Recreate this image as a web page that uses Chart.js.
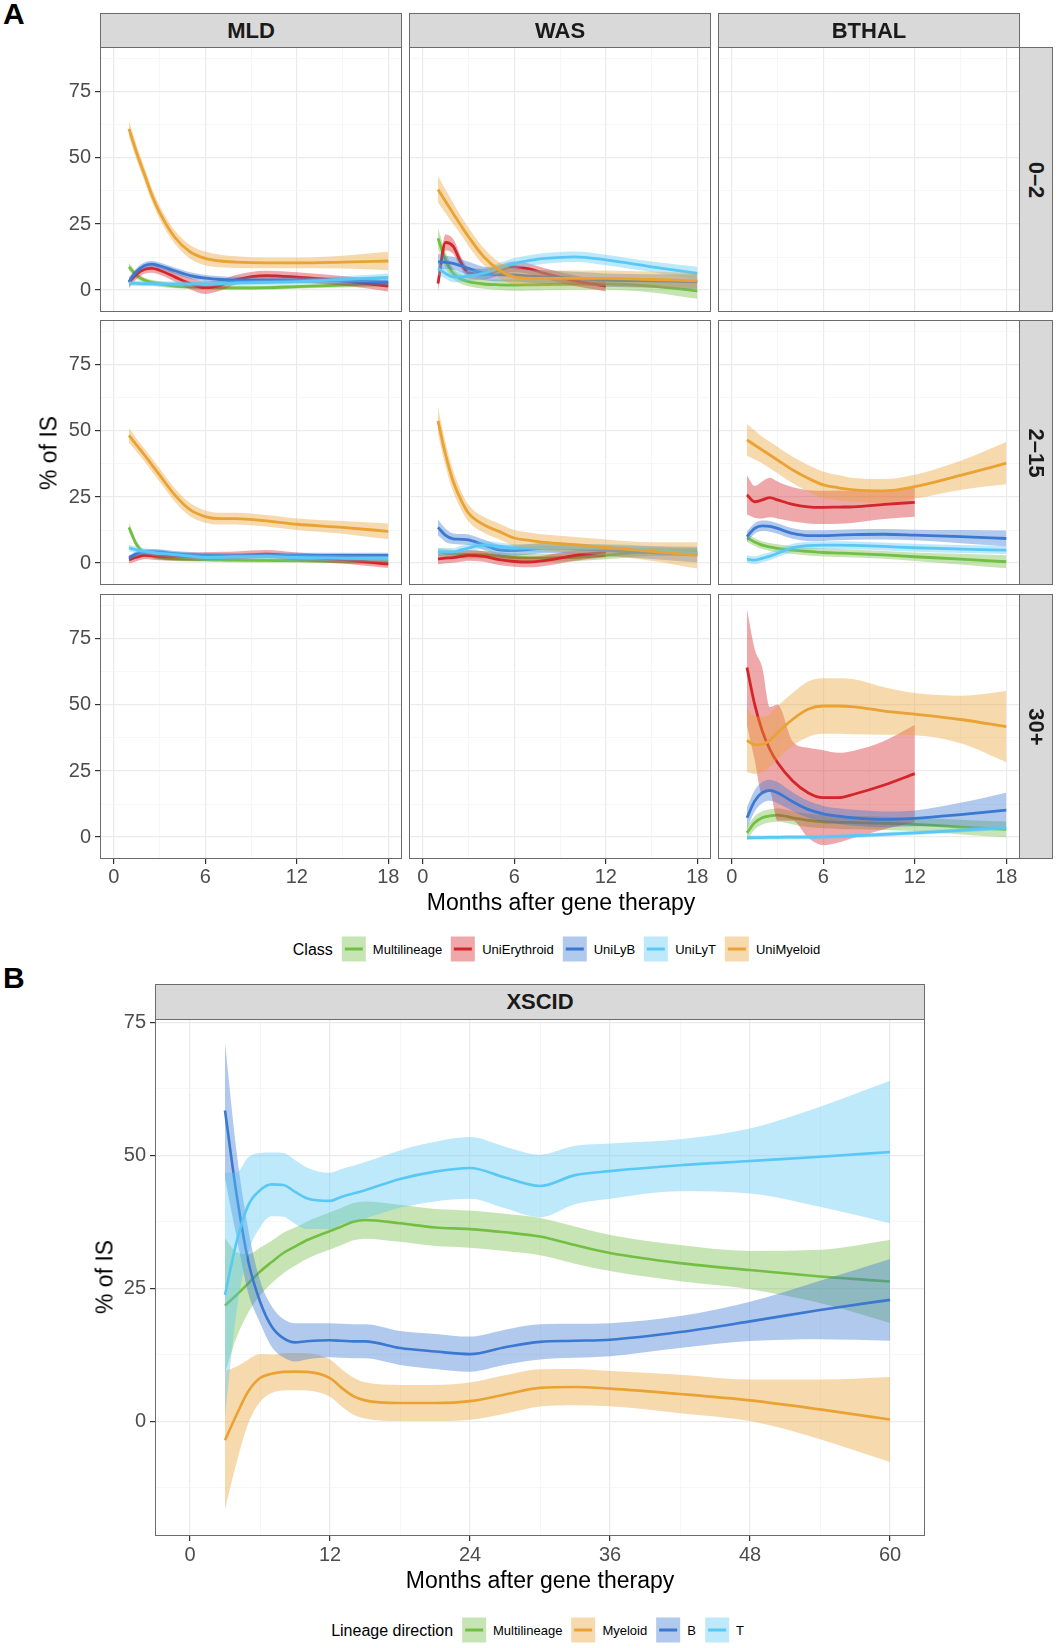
<!DOCTYPE html>
<html>
<head>
<meta charset="utf-8">
<script src="https://cdn.jsdelivr.net/npm/chart.js@4.4.0/dist/chart.umd.min.js"></script>
<style>
    body {
        margin: 0;
        background: #fff;
        width: 1057px;
        height: 1648px;
        position: relative;
        overflow: hidden;
        font-family: "Liberation Sans", Arial, Helvetica, sans-serif;
    }
    .strip {
        position: absolute;
        background: #d9d9d9;
        border: 1px solid #6b6b6b;
        box-sizing: border-box;
        font-weight: bold;
        font-size: 22px;
        color: #1a1a1a;
        display: flex;
        align-items: center;
        justify-content: center;
    }
    .strip.side span { transform: rotate(90deg); white-space: nowrap; }
    .txt { position: absolute; white-space: nowrap; color: #000; }
    .letter { font-weight: bold; font-size: 30px; }
    .axis-title { font-size: 23px; transform: translate(-50%, -50%); }
    .axis-title.rot { transform: translate(-50%, -50%) rotate(-90deg); }
    .legend {
        position: absolute;
        display: flex;
        align-items: center;
        transform: translate(-50%, -50%);
        white-space: nowrap;
    }
    .legend .title { font-size: 16px; margin-right: 9px; }
    .legend .key {
        width: 24px;
        height: 25px;
        margin-right: 7px;
        display: flex;
        align-items: center;
        justify-content: center;
    }
    .legend .key i { display: block; width: 18px; height: 3px; }
    .legend .lab { font-size: 13px; margin-right: 9px; }
</style>
</head>
<body>
<script>
    // ---- A: clone share by class, facets disease x age group ----
    const classNames = ['Multilineage', 'UniErythroid', 'UniLyB', 'UniLyT', 'UniMyeloid']
    const classColors = ['#72bf44', '#d4252a', '#3b78d1', '#5ac8f5', '#e9a233']
    const diseases = ['MLD', 'WAS', 'BTHAL']
    const ageGroups = ['0–2', '2–15', '30+']
    const monthsA = [1, 1.5, 2, 2.5, 3, 4, 5, 6, 7, 8, 10, 12, 15, 18]
    const monthTicksA = [0, 3, 6, 9, 12, 15, 18]
    const pctTicksA = [0, 12.5, 25, 37.5, 50, 62.5, 75, 87.5]

    // MLD 0-2
    const mld02Multi = [8.8, 5.5, 3.8, 2.9, 2.3, 1.5, 1.2, 1.0, 0.9, 0.8, 0.9, 1.3, 1.9, 2.5]
    const mld02MultiSe = [1.5, 1.2, 1.0, 1.0, 1.0, 0.8, 0.8, 0.8, 0.8, 0.8, 0.8, 0.8, 0.9, 1.2]
    const mld02Ery = [2.8, 6.0, 7.8, 8.2, 7.5, 5.0, 2.5, 0.9, 1.8, 3.9, 5.5, 4.9, 3.5, 1.5]
    const mld02ErySe = [2.0, 1.8, 1.6, 1.6, 1.6, 1.8, 2.2, 2.4, 2.0, 1.8, 1.8, 1.8, 1.8, 2.0]
    const mld02LyB = [3.2, 7.0, 9.2, 9.8, 9.2, 7.3, 5.5, 4.5, 4.0, 3.8, 3.8, 3.8, 3.5, 3.0]
    const mld02LyBSe = [1.5, 1.3, 1.2, 1.2, 1.2, 1.2, 1.2, 1.2, 1.2, 1.2, 1.2, 1.2, 1.3, 1.5]
    const mld02LyT = [2.5, 2.5, 2.4, 2.4, 2.4, 2.3, 2.3, 2.3, 2.4, 2.6, 2.9, 3.2, 4.0, 4.8]
    const mld02LyTSe = [1.0, 1.0, 1.0, 1.0, 1.0, 1.0, 1.0, 1.0, 1.0, 1.0, 1.0, 1.0, 1.2, 1.5]
    const mld02Mye = [61, 52, 44, 36, 29.5, 20, 14.5, 12, 11, 10.6, 10.3, 10.3, 10.6, 11]
    const mld02MyeSe = [3.0, 2.8, 2.6, 2.5, 2.5, 2.5, 2.6, 2.6, 2.4, 2.2, 2.0, 2.0, 2.4, 3.5]

    // WAS 0-2
    const was02Multi = [19.6, 11.4, 6.3, 4.2, 3.2, 2.3, 2.0, 1.9, 2.0, 2.1, 2.3, 2.3, 1.5, -0.3]
    const was02MultiSe = [4.0, 3.0, 2.0, 1.8, 1.8, 1.8, 2.0, 2.2, 2.2, 2.2, 2.2, 2.2, 2.4, 3.0]
    const was02Ery = [2.5, 18.0, 16.5, 10.5, 6.5, 6.0, 7.5, 8.8, 8.0, 6.3, 3.5, 1.5]
    const was02ErySe = [3.0, 3.0, 2.8, 2.2, 2.0, 2.0, 2.0, 2.0, 2.0, 2.0, 2.0, 2.0]
    const was02LyB = [10.7, 10.5, 10.1, 9.2, 8.2, 6.3, 5.8, 5.7, 5.3, 5.0, 4.4, 3.8, 3.5, 3.2]
    const was02LyBSe = [3.0, 2.5, 2.5, 2.5, 2.5, 2.5, 2.5, 2.5, 2.5, 2.5, 2.5, 2.5, 2.5, 2.8]
    const was02LyT = [8.2, 6.3, 5.0, 5.0, 5.3, 6.3, 8.2, 10.1, 11.2, 12.0, 12.6, 11.4, 8.8, 6.3]
    const was02LyTSe = [2.5, 2.0, 2.0, 2.0, 2.0, 2.0, 2.0, 2.0, 2.0, 2.0, 2.0, 2.0, 2.0, 2.5]
    const was02Mye = [38.1, 33.5, 29.0, 24.5, 20.2, 12.6, 7.6, 5.0, 4.5, 4.4, 4.4, 4.4, 4.0, 3.5]
    const was02MyeSe = [5.0, 4.5, 4.0, 3.5, 3.5, 3.2, 3.0, 3.0, 3.0, 3.0, 3.0, 3.0, 3.0, 3.0]

    // MLD 2-15
    const mld215Multi = [13.5, 7.0, 3.8, 2.7, 2.1, 1.6, 1.4, 1.3, 1.2, 1.1, 1.0, 0.9, 0.6, 0.4]
    const mld215MultiSe = [1.8, 1.2, 1.0, 0.8, 0.8, 0.8, 0.8, 0.8, 0.8, 0.8, 0.8, 0.8, 0.8, 1.0]
    const mld215Ery = [1.3, 2.2, 2.9, 2.8, 2.6, 2.5, 2.5, 2.6, 2.8, 2.9, 3.4, 2.5, 1.3, -0.4]
    const mld215ErySe = [1.5, 1.5, 1.5, 1.5, 1.5, 1.5, 1.5, 1.5, 1.5, 1.5, 1.5, 1.5, 1.5, 1.5]
    const mld215LyB = [1.9, 3.5, 4.2, 4.3, 4.2, 3.6, 3.2, 2.9, 2.8, 2.8, 2.9, 2.9, 2.9, 2.9]
    const mld215LyBSe = [1.0, 1.0, 1.0, 1.0, 1.0, 1.0, 1.0, 1.0, 1.0, 1.0, 1.0, 1.0, 1.0, 1.0]
    const mld215LyT = [5.7, 5.0, 4.4, 4.0, 3.7, 3.2, 2.6, 2.1, 2.2, 2.4, 2.5, 2.1, 1.8, 1.6]
    const mld215LyTSe = [1.2, 1.2, 1.2, 1.2, 1.2, 1.2, 1.2, 1.2, 1.2, 1.2, 1.2, 1.2, 1.2, 1.2]
    const mld215Mye = [48.3, 44.6, 41.0, 37.2, 33.4, 25.8, 20.2, 17.6, 16.8, 16.8, 16.0, 14.7, 13.5, 12.0]
    const mld215MyeSe = [2.8, 2.5, 2.5, 2.5, 2.5, 2.5, 2.5, 2.3, 2.2, 2.2, 2.2, 2.2, 2.4, 3.0]

    // WAS 2-15
    const was215Multi = [4.2, 3.8, 3.4, 3.3, 3.2, 3.2, 2.6, 2.1, 2.0, 1.9, 2.2, 2.9, 4.2, 4.2]
    const was215MultiSe = [1.5, 1.5, 1.5, 1.5, 1.5, 1.5, 1.5, 1.5, 1.5, 1.5, 1.5, 1.5, 1.5, 1.5]
    const was215Ery = [1.6, 1.9, 2.1, 2.5, 2.9, 2.5, 1.3, 0.6, 0.4, 0.9, 2.9, 4.2]
    const was215ErySe = [2.0, 2.0, 2.0, 2.0, 2.0, 2.0, 2.0, 2.0, 2.0, 2.0, 2.0, 2.0]
    const was215LyB = [13.5, 10.5, 9.2, 9.0, 8.8, 6.9, 5.0, 4.7, 5.2, 5.7, 5.5, 4.8, 4.0, 3.2]
    const was215LyBSe = [3.0, 2.5, 2.0, 2.0, 2.0, 2.0, 2.0, 2.0, 2.0, 2.0, 2.0, 2.0, 2.5, 3.0]
    const was215LyT = [4.2, 4.2, 4.2, 5.0, 5.7, 6.9, 6.3, 5.7, 5.7, 5.7, 5.7, 5.7, 4.8, 3.8]
    const was215LyTSe = [1.5, 1.5, 1.5, 1.5, 1.5, 1.5, 1.5, 1.5, 1.5, 1.5, 1.5, 1.5, 1.5, 1.5]
    const was215Mye = [53.8, 41.0, 30.9, 24.0, 18.9, 14.5, 12.0, 9.5, 8.6, 7.8, 6.9, 5.9, 4.4, 2.9]
    const was215MyeSe = [5.0, 4.5, 4.0, 3.5, 3.2, 3.0, 3.0, 3.0, 3.0, 3.0, 3.0, 3.0, 3.5, 5.0]

    // BTHAL 2-15
    const bt215Multi = [9.6, 8.0, 6.8, 6.1, 5.6, 4.9, 4.4, 4.0, 3.8, 3.6, 3.1, 2.4, 1.5, 0.5]
    const bt215MultiSe = [1.5, 1.5, 1.5, 1.5, 1.5, 1.5, 1.5, 1.5, 1.5, 1.5, 1.5, 1.6, 2.0, 2.5]
    const bt215Ery = [25.8, 23.2, 23.9, 24.8, 23.9, 22.2, 21.3, 21.1, 21.2, 21.3, 22.2, 23.0]
    const bt215ErySe = [7.4, 6.0, 7.0, 7.5, 7.0, 6.5, 6.3, 6.3, 6.3, 6.0, 5.5, 5.5]
    const bt215LyB = [10.0, 13.1, 14.1, 13.9, 13.1, 11.2, 10.4, 10.4, 10.6, 10.8, 10.9, 10.6, 10.0, 9.3]
    const bt215LyBSe = [2.0, 2.0, 2.0, 2.0, 2.0, 2.0, 2.0, 2.0, 2.0, 2.0, 2.0, 2.0, 2.5, 3.0]
    const bt215LyT = [1.5, 1.1, 1.8, 2.6, 3.7, 5.8, 6.6, 6.8, 6.8, 6.7, 6.3, 5.8, 5.3, 4.9]
    const bt215LyTSe = [1.5, 1.5, 1.5, 1.5, 1.5, 1.5, 1.5, 1.5, 1.5, 1.5, 1.5, 1.5, 1.5, 1.5]
    const bt215Mye = [46.6, 44.7, 42.8, 40.9, 39.0, 35.2, 32.1, 29.6, 28.5, 27.7, 27.3, 28.9, 33.2, 37.8]
    const bt215MyeSe = [6.0, 5.5, 5.0, 5.0, 5.0, 5.0, 5.0, 5.0, 4.8, 4.5, 4.5, 4.5, 5.5, 8.0]

    // BTHAL 30+
    const bt30Multi = [1.6, 5.4, 7.3, 8.0, 8.3, 7.3, 6.3, 5.8, 5.6, 5.5, 5.2, 4.8, 3.8, 2.9]
    const bt30MultiSe = [2.5, 2.5, 2.5, 2.5, 2.5, 2.5, 2.5, 2.5, 2.5, 2.5, 2.5, 2.5, 2.8, 3.0]
    const bt30Ery = [64.2, 50.3, 40.2, 33.2, 28.2, 21.2, 16.8, 14.9, 14.9, 16.2, 19.7, 24.0]
    const bt30ErySe = [22, 21, 24, 16, 22, 15, 17, 18, 17, 16.5, 16.7, 18.5]
    const bt30LyB = [7.3, 13.6, 16.8, 17.7, 16.8, 13.4, 10.5, 8.8, 7.9, 7.3, 6.7, 7.1, 8.5, 10.2]
    const bt30LyBSe = [4, 4, 4, 4, 4, 3.5, 3.2, 3, 3, 3, 3, 3, 4.5, 6.6]
    const bt30LyT = [-0.3, -0.2, -0.2, -0.1, -0.1, 0, 0, 0.1, 0.3, 0.5, 1.0, 1.6, 2.5, 3.5]
    const bt30LyTSe = [0.8, 0.8, 0.8, 0.8, 0.8, 0.8, 0.8, 0.8, 0.8, 0.8, 0.8, 0.8, 0.8, 0.8]
    const bt30Mye = [36.6, 34.9, 35.1, 36.6, 39.5, 44.6, 48.4, 49.6, 49.6, 49.3, 47.7, 46.5, 44.5, 41.8]
    const bt30MyeSe = [12, 11, 10.5, 10, 10, 10, 10.5, 10.5, 10.5, 10.4, 9, 8, 9, 13.5]

    // ---- B: XSCID by lineage direction ----
    const lineageNames = ['Multilineage', 'Myeloid', 'B', 'T']
    const lineageColors = ['#72bf44', '#e9a233', '#3b78d1', '#5ac8f5']
    const monthsB = [3, 4, 5, 6, 7, 8, 9, 10, 12, 13, 14, 15, 18, 21, 24, 27, 30, 33, 36, 42, 48, 54, 60]
    const monthTicksB = [0, 6, 12, 18, 24, 30, 36, 42, 48, 54, 60]
    const pctTicksB = [-12.5, 0, 12.5, 25, 37.5, 50, 62.5, 75]

    const xscidMulti = [21.7, 23.75, 25.9, 28.1, 29.9, 31.6, 32.8, 34.0, 35.75, 36.6, 37.5, 37.8, 37.2, 36.4, 36.1, 35.5, 34.7, 33.1, 31.6, 29.7, 28.4, 27.2, 26.25]
    const xscidMultiSe = [12.7, 8, 5.5, 4.5, 4, 3.8, 3.6, 3.5, 3.5, 3.5, 3.5, 3.5, 3.5, 3.5, 3.5, 3.5, 3.5, 3.5, 3.4, 3.4, 3.6, 5, 7.8]
    const xscidMye = [-3.6, 1.25, 5.6, 8.1, 8.9, 9.25, 9.3, 9.25, 8.1, 6.25, 4.7, 3.9, 3.4, 3.4, 3.75, 5, 6.25, 6.4, 6.1, 5.1, 3.9, 2.2, 0.3]
    const xscidMyeSe = [13, 9, 6, 4.5, 3.6, 3.5, 3.5, 3.5, 3.5, 3.5, 3.5, 3.4, 3.4, 3.4, 3.5, 3.6, 3.5, 3.4, 3.3, 3.6, 3.9, 5.6, 8]
    const xscidB = [58.4, 42.5, 30, 22.5, 17.8, 15.6, 14.8, 15, 15.2, 15.1, 15.0, 15, 13.75, 13.1, 12.6, 13.9, 14.9, 15.1, 15.3, 16.75, 18.75, 20.9, 22.8]
    const xscidBSe = [12.8, 8, 6, 4, 3.8, 3.6, 3.6, 3.4, 3.2, 3.2, 3.2, 3.2, 3.2, 3.3, 3.3, 3.3, 3.3, 3.2, 3.1, 3, 3.7, 5.5, 7.7]
    const xscidT = [23.75, 33.75, 40.6, 43.4, 44.5, 44.4, 43.1, 41.9, 41.4, 42.2, 42.8, 43.4, 45.5, 46.9, 47.6, 45.8, 44.2, 46.25, 47, 48.1, 48.9, 49.7, 50.6]
    const xscidTSe = [23, 13, 9, 7, 6, 6, 6, 5.8, 5.3, 5.2, 5.2, 5.3, 5.4, 5.6, 5.8, 5.8, 5.9, 5.5, 5.2, 4.9, 6.1, 9.4, 13.4]

    Chart.defaults.font.family = '"Liberation Sans", Arial, Helvetica, sans-serif'

    function rgba(hex, a) {
        const n = parseInt(hex.slice(1), 16)
        return `rgba(${n >> 16}, ${(n >> 8) & 255}, ${n & 255}, ${a})`
    }

    // panel frame drawn over the chart area
    const panelBorder = {
        id: 'panelBorder',
        afterDraw(chart) {
            const { ctx, chartArea: a } = chart
            ctx.save()
            ctx.strokeStyle = '#6b6b6b'
            ctx.lineWidth = 1
            ctx.strokeRect(a.left + 0.5, a.top + 0.5, a.right - a.left - 1, a.bottom - a.top - 1)
            ctx.restore()
        },
    }

    function axisOpts(min, max, ticks, isMajor, show, size, pad) {
        const major = c => c.tick && isMajor(c.tick.value)
        return {
            type: 'linear',
            min: min,
            max: max,
            afterBuildTicks: s => {
                s.ticks = ticks.map(value => ({ value }))
            },
            afterFit: s => {
                if (s.isHorizontal()) s.height = size
                else s.width = size
                s.paddingTop = s.paddingBottom = s.paddingLeft = s.paddingRight = 0
            },
            border: { display: false },
            grid: {
                color: c => (major(c) ? '#ebebeb' : '#f3f3f3'),
                lineWidth: c => (major(c) ? 1.2 : 0.7),
                drawTicks: show,
                tickLength: 5,
                tickWidth: 1.2,
                tickColor: c => (major(c) ? '#333333' : 'rgba(0,0,0,0)'),
            },
            ticks: {
                display: show,
                autoSkip: false,
                maxRotation: 0,
                minRotation: 0,
                padding: pad,
                color: '#4d4d4d',
                font: { size: 20 },
                callback: v => (isMajor(v) ? String(v) : ''),
            },
        }
    }

    function addPanel(p) {
        const canvas = document.createElement('canvas')
        const padT = p.padT || 0
        const w = p.w + p.padL
        const h = p.h + p.padB + padT
        canvas.width = w
        canvas.height = h
        canvas.style.cssText = `position:absolute;left:${p.left - p.padL}px;top:${p.top - padT}px;width:${w}px;height:${h}px`
        document.body.appendChild(canvas)

        const datasets = []
        p.series.forEach((s, k) => {
            const base = 100 - 3 * k
            const pts = arr => arr.map((y, i) => ({ x: p.months[i], y }))
            datasets.push({
                data: pts(s.mean.map((m, i) => m + s.se[i])),
                fill: '+1',
                backgroundColor: rgba(s.color, 0.4),
                borderColor: 'rgba(0,0,0,0)',
                borderWidth: 0,
                order: base + 1,
            })
            datasets.push({
                data: pts(s.mean.map((m, i) => m - s.se[i])),
                fill: false,
                borderColor: 'rgba(0,0,0,0)',
                borderWidth: 0,
                order: base + 2,
            })
            datasets.push({
                data: pts(s.mean),
                fill: false,
                borderColor: s.color,
                borderWidth: p.lineWidth,
                order: base,
            })
        })

        new Chart(canvas, {
            type: 'line',
            data: { datasets },
            plugins: [panelBorder],
            options: {
                responsive: false,
                animation: false,
                events: [],
                layout: { padding: { top: padT, left: 0, right: 0, bottom: 0 } },
                elements: {
                    point: { radius: 0 },
                    line: { cubicInterpolationMode: 'monotone', borderCapStyle: 'butt' },
                },
                plugins: {
                    legend: { display: false },
                    tooltip: { enabled: false },
                    filler: { drawTime: 'beforeDatasetDraw' },
                },
                scales: {
                    x: axisOpts(p.xMin, p.xMax, p.xTicks, p.xMajor, p.padB > 0, p.padB, p.xPad),
                    y: axisOpts(p.yMin, p.yMax, p.yTicks, v => v % 25 === 0, p.padL > 0, p.padL, 4),
                },
            },
        })
    }

    function addDiv(cls, css, text) {
        const d = document.createElement('div')
        d.className = cls
        d.style.cssText = css
        if (text !== undefined) d.textContent = text
        document.body.appendChild(d)
        return d
    }

    function addLegend(cx, cy, title, names, colors) {
        const lg = addDiv('legend', `left:${cx}px;top:${cy}px`)
        const t = document.createElement('span')
        t.className = 'title'
        t.textContent = title
        lg.appendChild(t)
        names.forEach((n, i) => {
            const key = document.createElement('span')
            key.className = 'key'
            key.style.background = rgba(colors[i], 0.4)
            const line = document.createElement('i')
            line.style.background = colors[i]
            key.appendChild(line)
            const lab = document.createElement('span')
            lab.className = 'lab'
            lab.textContent = n
            lg.appendChild(key)
            lg.appendChild(lab)
        })
    }

    // ---- layout of facet grid A ----
    const colLeft = [100, 409, 718]
    const colW = 302
    const rowTop = [47, 320, 594]
    const rowH = 265

    const facetData = {
        '0,0': [[mld02Multi, mld02MultiSe], [mld02Ery, mld02ErySe], [mld02LyB, mld02LyBSe], [mld02LyT, mld02LyTSe], [mld02Mye, mld02MyeSe]],
        '0,1': [[was02Multi, was02MultiSe], [was02Ery, was02ErySe], [was02LyB, was02LyBSe], [was02LyT, was02LyTSe], [was02Mye, was02MyeSe]],
        '1,0': [[mld215Multi, mld215MultiSe], [mld215Ery, mld215ErySe], [mld215LyB, mld215LyBSe], [mld215LyT, mld215LyTSe], [mld215Mye, mld215MyeSe]],
        '1,1': [[was215Multi, was215MultiSe], [was215Ery, was215ErySe], [was215LyB, was215LyBSe], [was215LyT, was215LyTSe], [was215Mye, was215MyeSe]],
        '1,2': [[bt215Multi, bt215MultiSe], [bt215Ery, bt215ErySe], [bt215LyB, bt215LyBSe], [bt215LyT, bt215LyTSe], [bt215Mye, bt215MyeSe]],
        '2,2': [[bt30Multi, bt30MultiSe], [bt30Ery, bt30ErySe], [bt30LyB, bt30LyBSe], [bt30LyT, bt30LyTSe], [bt30Mye, bt30MyeSe]],
    }

    for (let r = 0; r < 3; r++) {
        for (let c = 0; c < 3; c++) {
            const list = facetData[r + ',' + c] || []
            addPanel({
                left: colLeft[c],
                top: rowTop[r],
                w: colW,
                h: rowH,
                padL: c === 0 ? 60 : 0,
                padB: r === 2 ? 34 : 0,
                xPad: 1,
                months: monthsA,
                xMin: -0.9,
                xMax: 18.9,
                xTicks: monthTicksA,
                xMajor: v => v % 6 === 0,
                yMin: -8.3,
                yMax: 92,
                yTicks: pctTicksA,
                lineWidth: 2.8,
                series: list.map((s, k) => ({ mean: s[0], se: s[1], color: classColors[k] })),
            })
        }
    }

    diseases.forEach((d, c) => {
        addDiv('strip', `left:${colLeft[c]}px;top:13px;width:${colW}px;height:35px`, d)
    })
    ageGroups.forEach((a, r) => {
        const s = addDiv('strip side', `left:1019px;top:${rowTop[r]}px;width:34px;height:${rowH}px`)
        const sp = document.createElement('span')
        sp.textContent = a
        s.appendChild(sp)
    })

    addDiv('txt letter', 'left:3px;top:-3px', 'A')
    addDiv('txt axis-title', 'left:561px;top:902px', 'Months after gene therapy')
    addDiv('txt axis-title rot', 'left:49px;top:453px', '% of IS')
    addLegend(561, 949, 'Class', classNames, classColors)

    // ---- panel B ----
    addPanel({
        left: 155,
        top: 1019,
        w: 770,
        h: 517,
        padT: 14,
        padL: 60,
        padB: 36,
        xPad: 2,
        months: monthsB,
        xMin: -3,
        xMax: 63,
        xTicks: monthTicksB,
        xMajor: v => v % 12 === 0,
        yMin: -21.6,
        yMax: 75.6,
        yTicks: pctTicksB,
        lineWidth: 2.6,
        series: [
            { mean: xscidMulti, se: xscidMultiSe, color: lineageColors[0] },
            { mean: xscidMye, se: xscidMyeSe, color: lineageColors[1] },
            { mean: xscidB, se: xscidBSe, color: lineageColors[2] },
            { mean: xscidT, se: xscidTSe, color: lineageColors[3] },
        ],
    })
    addDiv('strip', 'left:155px;top:984px;width:770px;height:36px', 'XSCID')
    addDiv('txt letter', 'left:3px;top:961px', 'B')
    addDiv('txt axis-title', 'left:540px;top:1580px', 'Months after gene therapy')
    addDiv('txt axis-title rot', 'left:105px;top:1277px', '% of IS')
    addLegend(542, 1630, 'Lineage direction', lineageNames, lineageColors)
</script>
</body>
</html>
